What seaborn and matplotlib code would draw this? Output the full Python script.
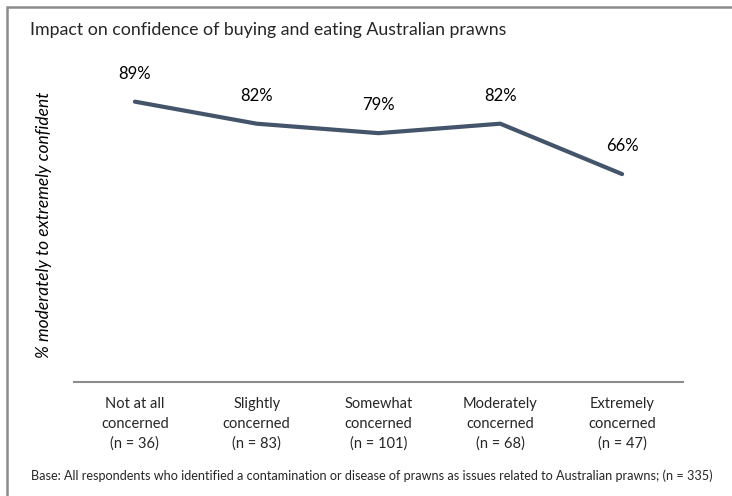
import matplotlib.pyplot as plt
import seaborn as sns
import pandas as pd
from matplotlib.patches import Rectangle

# ------------------------------------------------
# Data
# ------------------------------------------------
categories = [
    "Not at all\nconcerned\n(n = 36)",
    "Slightly\nconcerned\n(n = 83)",
    "Somewhat\nconcerned\n(n = 101)",
    "Moderately\nconcerned\n(n = 68)",
    "Extremely\nconcerned\n(n = 47)",
]
confident_pct = [89, 82, 79, 82, 66]
value_labels = ["89%", "82%", "79%", "82%", "66%"]

df = pd.DataFrame({"group": categories, "pct": confident_pct})

# ------------------------------------------------
# Draw line chart
# ------------------------------------------------
sns.set_style("white")
plt.rcParams["font.family"] = ["Lato", "DejaVu Sans"]

fig = plt.figure(figsize=(7.32, 4.96), dpi=100)
ax = fig.add_axes([74 / 732, 1 - 382 / 496, 609 / 732, 315 / 496])

line_color = "#44546A"
sns.lineplot(data=df, x="group", y="pct", ax=ax, color=line_color,
             linewidth=3, sort=False)

ax.set_ylim(0, 100)
ax.set_xlim(-0.5, len(categories) - 0.5)

for i, (v, lab) in enumerate(zip(confident_pct, value_labels)):
    ax.annotate(lab, (i, v), xytext=(0, 20), textcoords="offset points",
                ha="center", va="center", fontsize=12, color="#000000")

# axes styling: only a grey bottom line
for side in ["top", "right", "left"]:
    ax.spines[side].set_visible(False)
ax.spines["bottom"].set_color("#8c8c8c")
ax.spines["bottom"].set_linewidth(1.5)
ax.set_yticks([])
ax.tick_params(axis="x", length=0, pad=11, labelsize=10.5)
for t in ax.get_xticklabels():
    t.set_linespacing(1.5)

ax.set_xlabel("")
ax.set_ylabel("% moderately to extremely confident", fontsize=12.5,
              style="italic", color="#000000")
ax.yaxis.set_label_coords(-0.036, 0.5)

# title and footnote
fig.text(30 / 732, 1 - 30 / 496,
         "Impact on confidence of buying and eating Australian prawns",
         fontsize=12.8, ha="left", va="center")
fig.text(31 / 732, 1 - 476 / 496,
         "Base: All respondents who identified a contamination or disease of "
         "prawns as issues related to Australian prawns; (n = 335)",
         fontsize=9.1, ha="left", va="center")

# grey frame around the chart (cut off at right and bottom)
fig.patches.append(Rectangle((7 / 732, -0.1), 1.2, 1 - 7 / 496 + 0.1,
                             transform=fig.transFigure, fill=False,
                             edgecolor="#8c8c8c", linewidth=1.8))

fig.savefig("out.png", dpi=100)
